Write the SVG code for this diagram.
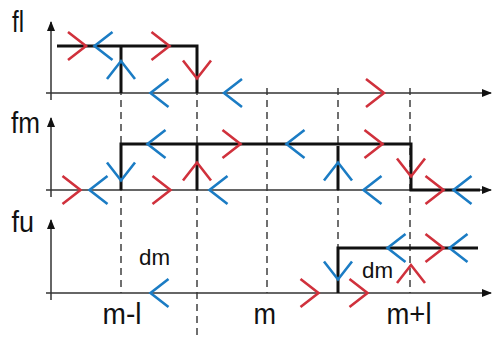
<svg xmlns="http://www.w3.org/2000/svg" xmlns:xlink="http://www.w3.org/1999/xlink" width="492" height="338" viewBox="0 0 492 338">
  <style>
    .axis { stroke: #333; stroke-width: 1.5; fill: none; }
    .step { stroke: #111; stroke-width: 3; fill: none; stroke-linejoin: miter; }
    .guide { stroke: #333; stroke-width: 1.4; stroke-dasharray: 7 5; fill: none; }
    .red { stroke: #d0313c; stroke-width: 2.6; fill: none; }
    .blue { stroke: #1b7cc4; stroke-width: 2.6; fill: none; }
    .lbl { font-family: "Liberation Sans", Arial, sans-serif; font-size: 30px; fill: #111; }
    .dm { font-family: "Liberation Sans", Arial, sans-serif; font-size: 21.5px; fill: #111; }
  </style>
  <defs>
    <path id="chev" d="M-18,-14 L0,0 L-18,14"/>
    <marker id="ah" markerWidth="10" markerHeight="8" refX="9" refY="4" orient="auto" markerUnits="userSpaceOnUse">
      <path d="M0,0 L10,4 L0,8 Z" fill="#111"/>
    </marker>
  </defs>
  <rect width="492" height="338" fill="#fff"/>

  <g id="guides">
    <line class="guide" x1="121" y1="88" x2="121" y2="293"/>
    <line class="guide" x1="197" y1="88" x2="197" y2="337"/>
    <line class="guide" x1="267" y1="88" x2="267" y2="293"/>
    <line class="guide" x1="338" y1="88" x2="338" y2="293"/>
    <line class="guide" x1="410" y1="88" x2="410" y2="293"/>
  </g>

  <g id="axes">
    <line class="axis" x1="46" y1="93" x2="491" y2="93" marker-end="url(#ah)"/>
    <line class="axis" x1="51" y1="100" x2="51" y2="22" marker-end="url(#ah)"/>
    <line class="axis" x1="46" y1="190" x2="491" y2="190" marker-end="url(#ah)"/>
    <line class="axis" x1="51" y1="197" x2="51" y2="118" marker-end="url(#ah)"/>
    <line class="axis" x1="46" y1="293" x2="491" y2="293" marker-end="url(#ah)"/>
    <line class="axis" x1="51" y1="300" x2="51" y2="220" marker-end="url(#ah)"/>
  </g>

  <g id="steps">
    <polyline class="step" points="57,46 197,46 197,93"/>
    <line class="step" x1="121" y1="46" x2="121" y2="93"/>
    <polyline class="step" points="121,190 121,144 411,144 411,190 480,190"/>
    <line class="step" x1="197" y1="144" x2="197" y2="190"/>
    <line class="step" x1="338" y1="146" x2="338" y2="190"/>
    <polyline class="step" points="338,293 338,248 478,248"/>
  </g>

  <g id="chevrons-fl">
    <use xlink:href="#chev" class="red" transform="translate(86,46)"/>
    <use xlink:href="#chev" class="blue" transform="translate(94.5,46) rotate(180)"/>
    <use xlink:href="#chev" class="blue" transform="translate(121,61) rotate(-90)"/>
    <use xlink:href="#chev" class="red" transform="translate(169.5,46)"/>
    <use xlink:href="#chev" class="red" transform="translate(197,78.5) rotate(90)"/>
    <use xlink:href="#chev" class="blue" transform="translate(150.5,93) rotate(180)"/>
    <use xlink:href="#chev" class="blue" transform="translate(224,93) rotate(180)"/>
    <use xlink:href="#chev" class="red" transform="translate(384,93)"/>
  </g>

  <g id="chevrons-fm">
    <use xlink:href="#chev" class="red" transform="translate(80.5,190)"/>
    <use xlink:href="#chev" class="blue" transform="translate(89.5,190) rotate(180)"/>
    <use xlink:href="#chev" class="blue" transform="translate(121,180.5) rotate(90)"/>
    <use xlink:href="#chev" class="blue" transform="translate(147.5,144) rotate(180)"/>
    <use xlink:href="#chev" class="red" transform="translate(170.5,190)"/>
    <use xlink:href="#chev" class="red" transform="translate(197,162.5) rotate(-90)"/>
    <use xlink:href="#chev" class="red" transform="translate(240.5,144)"/>
    <use xlink:href="#chev" class="blue" transform="translate(209.5,190) rotate(180)"/>
    <use xlink:href="#chev" class="blue" transform="translate(286.5,144) rotate(180)"/>
    <use xlink:href="#chev" class="red" transform="translate(382.5,144)"/>
    <use xlink:href="#chev" class="blue" transform="translate(338,162.5) rotate(-90)"/>
    <use xlink:href="#chev" class="blue" transform="translate(363.5,190) rotate(180)"/>
    <use xlink:href="#chev" class="red" transform="translate(411,176.5) rotate(90)"/>
    <use xlink:href="#chev" class="red" transform="translate(443.5,190)"/>
    <use xlink:href="#chev" class="blue" transform="translate(453.5,190) rotate(180)"/>
  </g>

  <g id="chevrons-fu">
    <use xlink:href="#chev" class="blue" transform="translate(150.5,293) rotate(180)"/>
    <use xlink:href="#chev" class="red" transform="translate(318.5,293)"/>
    <use xlink:href="#chev" class="blue" transform="translate(338,279.5) rotate(90)"/>
    <use xlink:href="#chev" class="red" transform="translate(367.5,293)"/>
    <use xlink:href="#chev" class="blue" transform="translate(387.5,248) rotate(180)"/>
    <use xlink:href="#chev" class="red" transform="translate(411,265) rotate(-90)"/>
    <use xlink:href="#chev" class="red" transform="translate(443.5,248)"/>
    <use xlink:href="#chev" class="blue" transform="translate(449.5,248) rotate(180)"/>
  </g>

  <g id="labels">
    <text class="lbl" x="12" y="32" textLength="12" lengthAdjust="spacingAndGlyphs">fl</text>
    <text class="lbl" x="11" y="133" textLength="29" lengthAdjust="spacingAndGlyphs">fm</text>
    <text class="lbl" x="11.5" y="232" textLength="22.5" lengthAdjust="spacingAndGlyphs">fu</text>
    <text class="lbl" x="102.5" y="324" textLength="39" lengthAdjust="spacingAndGlyphs">m-l</text>
    <text class="lbl" x="253.5" y="324" textLength="22.5" lengthAdjust="spacingAndGlyphs">m</text>
    <text class="lbl" x="386.5" y="324" textLength="45" lengthAdjust="spacingAndGlyphs">m+l</text>
    <text class="dm" x="139" y="265" textLength="31" lengthAdjust="spacingAndGlyphs">dm</text>
    <text class="dm" x="362" y="278" textLength="31" lengthAdjust="spacingAndGlyphs">dm</text>
  </g>
</svg>
